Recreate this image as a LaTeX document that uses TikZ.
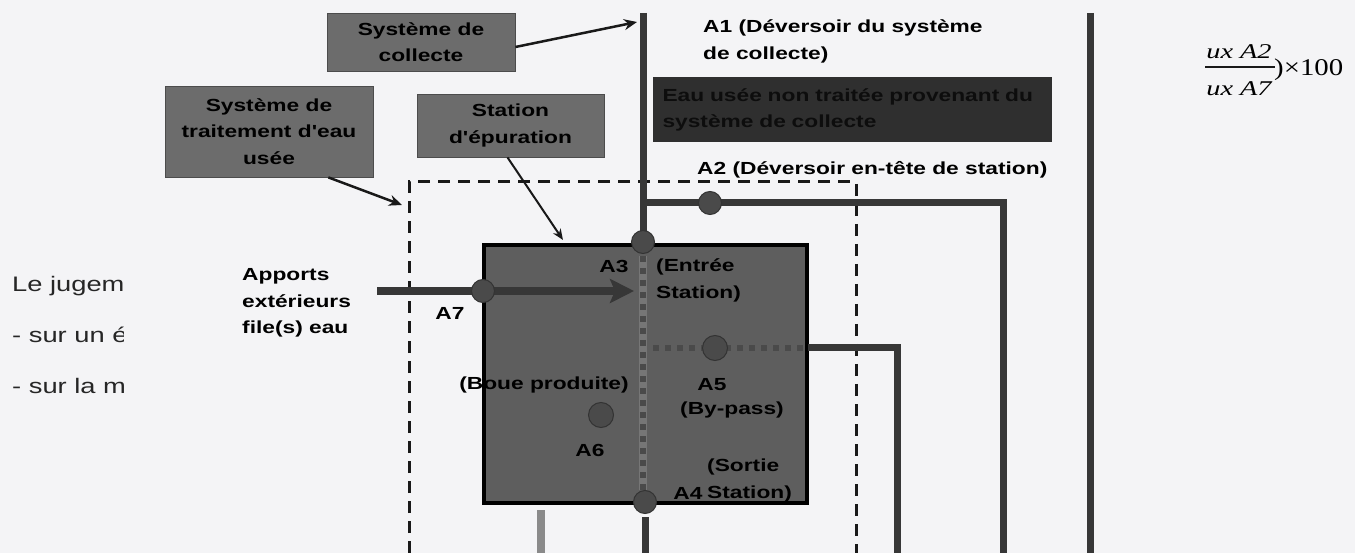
\documentclass[tikz,border=0pt]{standalone}
\usepackage{fontspec}
\setmainfont{Liberation Sans}
\newfontfamily\wsans[FakeStretch=1.3]{Liberation Sans}
\newfontfamily\wserif[FakeStretch=1.2]{Liberation Serif}
\newfontfamily\wserifN[FakeStretch=1.35]{Liberation Serif}
\usetikzlibrary{arrows.meta}
\definecolor{paper}{HTML}{F4F4F6}
\definecolor{lblgray}{HTML}{6C6C6C}
\definecolor{stngray}{HTML}{5E5E5E}
\definecolor{darkbox}{HTML}{2F2F2F}
\definecolor{pipegray}{HTML}{373737}
\definecolor{dotgray}{HTML}{4A4A4A}
\definecolor{sqgray}{HTML}{4A4A4A}
\definecolor{stripe}{HTML}{767676}
\definecolor{lightpipe}{HTML}{8A8A8A}
\tikzset{
  lblbox/.style={fill=lblgray, draw=black!70, line width=0.8pt, inner sep=0pt, align=center,
    font=\wsans\bfseries\fontsize{17.5}{26.5}\selectfont},
  txt/.style={inner sep=0pt, font=\wsans\bfseries\fontsize{17.5}{26.5}\selectfont},
  bodytxt/.style={inner sep=0pt, anchor=base west, font=\wsans\fontsize{21}{25}\selectfont, text=black!85},
  pipe/.style={draw=pipegray, line width=7pt},
  dotnode/.style={circle, fill=dotgray, draw=black!80, line width=1pt, minimum size=23pt, inner sep=0pt},
  dashedline/.style={draw=black!90, line width=3pt, dash pattern=on 12pt off 8pt},
  squares/.style={draw=sqgray, line width=6.5pt, dash pattern=on 6pt off 6pt},
  pointer/.style={draw=black!90, line width=2.5pt, -{Stealth[length=13pt,width=11pt]}},
}
\begin{document}
\begin{tikzpicture}[x=1pt,y=-1pt]
\useasboundingbox (0,0) rectangle (1355,553);
\fill[paper] (0,0) rectangle (1355,553);

% left body text (clipped)
\begin{scope}
\clip (0,250) rectangle (123,420);
\node[bodytxt] (t1) at (12,292) {Le jugeme};
\node[bodytxt] (t2) at (12,343) {- sur un é};
\node[bodytxt] (t3) at (12,393) {- sur la m};
\end{scope}

% dashed system boundary
\coordinate (dbl) at (409,553);
\coordinate (dtl) at (409,182);
\coordinate (dtr) at (856,182);
\coordinate (dbr) at (856,553);
\draw[dashedline] (dbl) -- (dtl) -- (dtr) -- (dbr);

% station box
\node[draw=black, line width=4pt, fill=stngray, minimum width=323pt, minimum height=258pt, inner sep=0pt] (stn) at (645.5,374) {};

% junction coordinates
\coordinate (topmain) at (643,13);
\coordinate (j2) at (643,203);
\coordinate (c2) at (1003,203);
\coordinate (e2) at (1003,553);
\coordinate (topright) at (1090,13);
\coordinate (botright) at (1090,553);
\coordinate (b5s) at (653,348);
\coordinate (b5m) at (808,348);
\coordinate (c5) at (897,348);
\coordinate (e5) at (897,553);
\coordinate (dv1) at (643,256);
\coordinate (dv2) at (643,490);
\coordinate (out1) at (645,517);
\coordinate (out2) at (645,553);
\coordinate (sl1) at (541,510);
\coordinate (sl2) at (541,553);
\coordinate (in7) at (377,291);
\coordinate (in7tip) at (634,291);

% pipes
\draw[pipe] (topmain) -- (643,242);
\draw[pipe, line join=miter] (j2) -- (c2) -- (e2);
\draw[pipe] (topright) -- (botright);
\draw[squares] (b5s) -- (b5m);
\draw[pipe, line join=miter] (b5m) -- (c5) -- (e5);
\draw[draw=stripe, line width=8pt] (dv1) -- (dv2);
\draw[squares] (dv1) -- (dv2);
\draw[pipe] (out1) -- (out2);
\draw[draw=lightpipe, line width=8pt] (sl1) -- (sl2);
\draw[draw=pipegray, line width=8pt, -{Stealth[length=24pt,width=24pt,inset=5pt]}] (in7) -- (in7tip);

% measurement points
\node[dotnode] (A3) at (643,242) {};
\node[dotnode] (A4) at (645,502) {};
\node[dotnode] (A7) at (483,291) {};
\node[dotnode] (A2) at (710,203) {};
\node[dotnode, minimum size=25pt] (A5) at (715,348) {};
\node[dotnode, minimum size=25pt] (A6) at (601,415) {};

% label boxes
\node[lblbox, minimum width=188pt, minimum height=58pt] (collecte) at (421,42) {Système de\\collecte};
\node[lblbox, minimum width=208pt, minimum height=91pt] (traitement) at (269,131.5) {Système de\\traitement d'eau\\usée};
\node[lblbox, minimum width=187pt, minimum height=63pt] (station) at (510.5,125.5) {Station\\d'épuration};
\node[fill=darkbox, minimum width=399pt, minimum height=65pt, inner ysep=0pt, inner xsep=9.5pt, text width=380pt, align=left, text=black!95,
  font=\wsans\bfseries\fontsize{17.5}{26}\selectfont] (eau) at (852.5,109.5) {Eau usée non traitée provenant du\\système de collecte};

% pointers
\coordinate (collecteTip) at (637,22);
\coordinate (traitementTip) at (402,205);
\coordinate (stationTip) at (563,240);
\draw[pointer] ([yshift=-5pt]collecte.east) -- (collecteTip);
\draw[pointer] ([xshift=-45pt]traitement.south east) -- (traitementTip);
\draw[pointer, -{Stealth[length=11pt,width=9pt]}, line width=2pt] ([xshift=-3pt]station.south) -- (stationTip);

% texts
\node[txt, anchor=west, align=left] (a1txt) at (703,41.5) {A1 (Déversoir du système\\de collecte)};
\node[txt, anchor=west] (a2txt) at (697,169.5) {A2 (Déversoir en-tête de station)};
\node[txt, anchor=west, align=left] (apports) at (242,303) {Apports\\extérieurs\\file(s) eau};
\node[txt] (a7lbl) at (450,313) {A7};
\node[txt] (a3lbl) at (614,266) {A3};
\node[txt, anchor=west, align=left] (entree) at (656,280.5) {(Entrée\\Station)};
\node[txt] (boue) at (544,384.5) {(Boue produite)};
\node[txt] (a5lbl) at (712,385) {A5};
\node[txt] (bypass) at (732,410) {(By-pass)};
\node[txt] (a6lbl) at (590,450) {A6};
\node[txt, anchor=west, align=left] (sortie) at (707,480.5) {(Sortie\\Station)};
\node[txt] (a4lbl) at (688,493) {A4};

% formula fragment
\node[inner sep=0pt, font=\wserifN\itshape\fontsize{21}{21}\selectfont] (num) at (1239,52) {ux A2};
\node[inner sep=0pt, font=\wserifN\itshape\fontsize{21}{21}\selectfont] (den) at (1239,89) {ux A7};
\coordinate (barL) at (1205,67);
\coordinate (barR) at (1275,67);
\draw[line width=2.2pt, black!90] (barL) -- (barR);
\node[inner sep=0pt, anchor=west, font=\wserif\fontsize{24}{24}\selectfont] (times) at (1274,70) {)\texttimes100};
\end{tikzpicture}
\end{document}
